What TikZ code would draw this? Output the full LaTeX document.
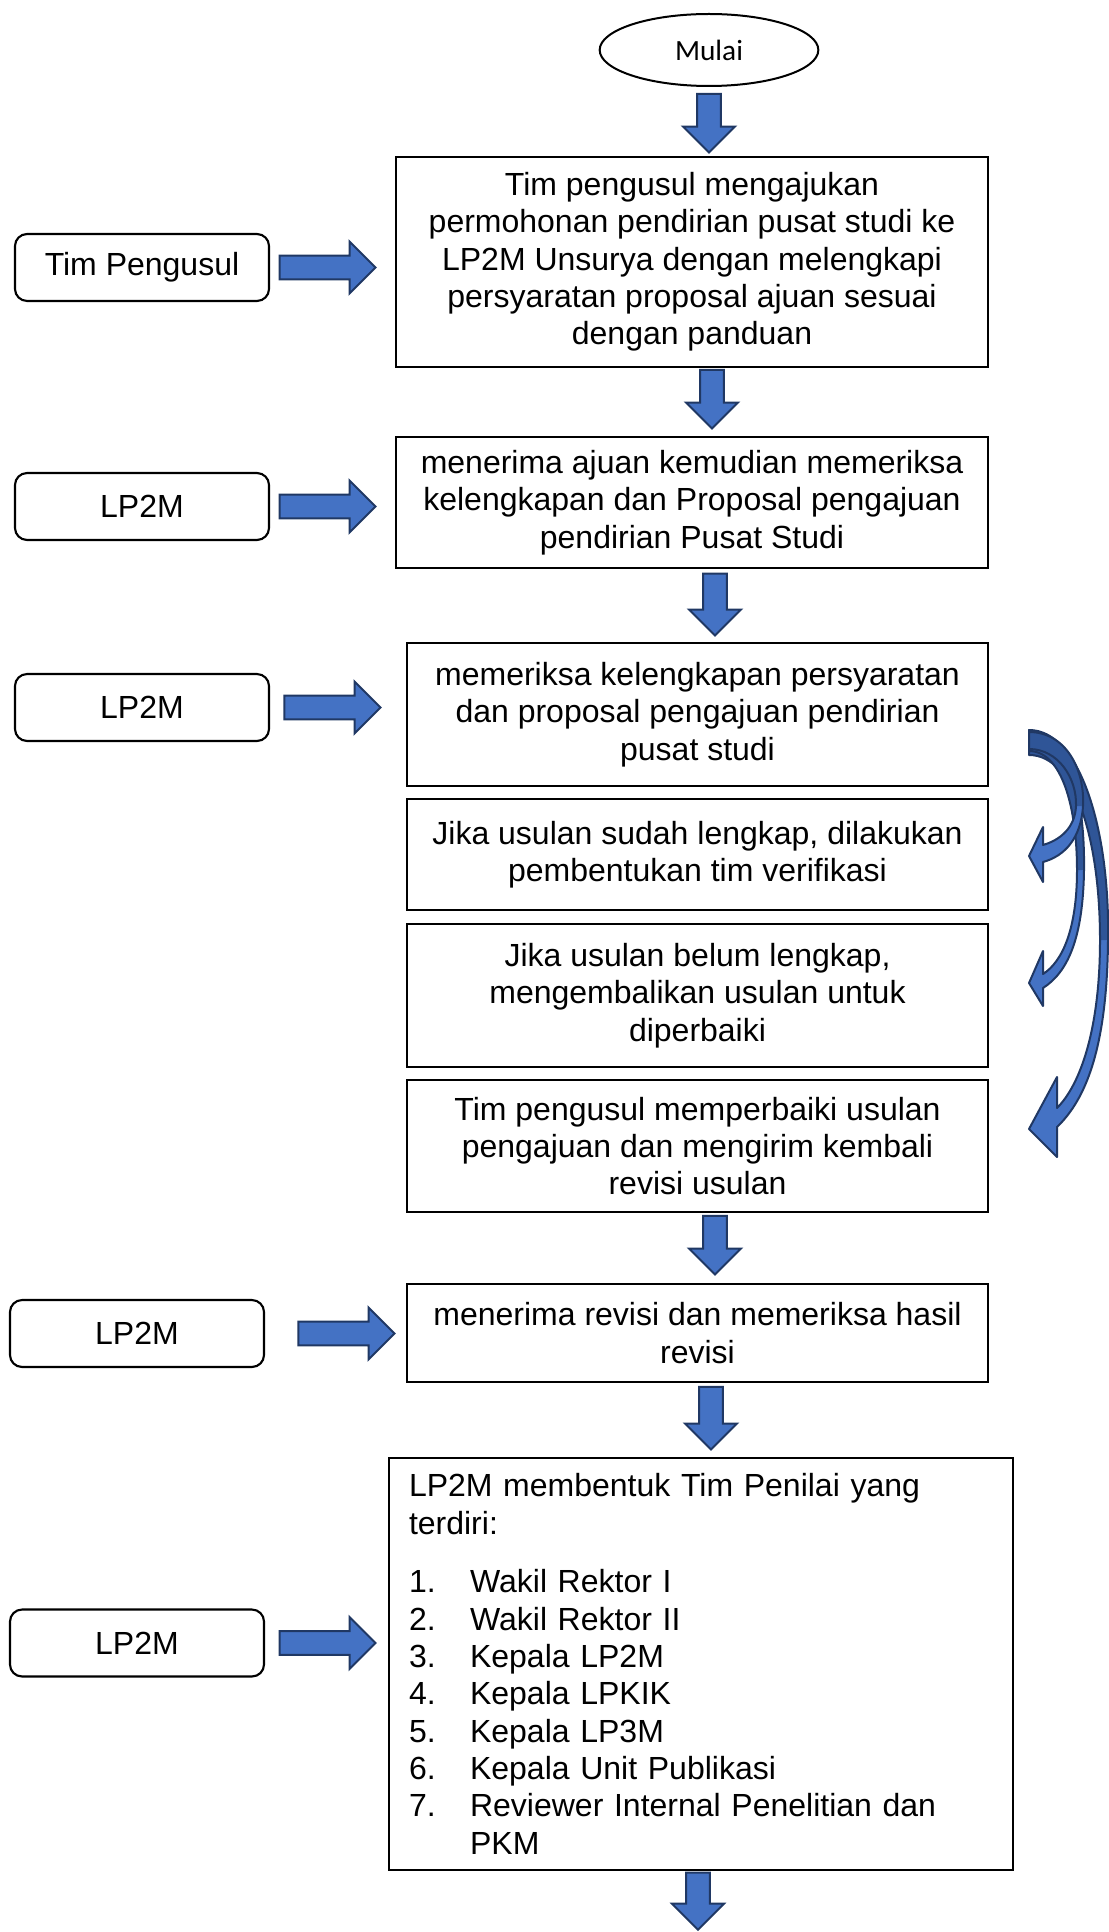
\documentclass[tikz,border=0pt]{standalone}
\usepackage{fontspec}
\setmainfont{Liberation Sans}
\newfontfamily\startfont{Carlito}
\usepackage{tikz}
\usetikzlibrary{arrows.meta, calc, shapes.geometric, shapes.arrows}
\definecolor{arrowblue}{RGB}{68,114,196}
\definecolor{arrowdark}{RGB}{47,85,151}
\definecolor{arrowedge}{RGB}{32,56,100}

\begin{document}
\begin{tikzpicture}[x=0.375pt, y=-0.375pt,
  stepbox/.style={draw, line width=0.8pt, align=center, inner sep=0pt,
    minimum width=217.9pt, font=\fontsize{12}{14}\selectfont},
  actor/.style={draw, line width=0.8pt, rounded corners=4.5pt,
    minimum width=95.25pt, minimum height=25.1pt, font=\fontsize{12}{14}\selectfont},
  blockarrow/.style={single arrow, draw=arrowedge, fill=arrowblue, line width=0.75pt,
    inner xsep=0pt, inner ysep=4.1pt, single arrow head extend=5.25pt, minimum height=#1},
  blockarrow/.default=22pt]
  \useasboundingbox (0,0) rectangle (1108,1932);

  % Start
  \node[draw, ellipse, line width=0.75pt, inner sep=0pt, minimum width=82pt, minimum height=27pt,
    font=\startfont\fontsize{11}{13}\selectfont] (start) at (709,50) {Mulai};

  % Process steps
  \node[stepbox, minimum width=222pt, minimum height=78.75pt] (b1) at (692,262)
    {Tim pengusul mengajukan\\permohonan pendirian pusat studi ke\\LP2M Unsurya dengan melengkapi\\persyaratan proposal ajuan sesuai\\dengan panduan};
  \node[stepbox, minimum width=222pt, minimum height=49.1pt] (b2) at (692,502.5)
    {menerima ajuan kemudian memeriksa\\kelengkapan dan Proposal pengajuan\\pendirian Pusat Studi};
  \node[stepbox, minimum height=53.6pt] (b3) at (697.5,714.5)
    {memeriksa kelengkapan persyaratan\\dan proposal pengajuan pendirian\\pusat studi};
  \node[stepbox, minimum height=41.6pt] (b4) at (697.5,854.5)
    {Jika usulan sudah lengkap, dilakukan\\pembentukan tim verifikasi};
  \node[stepbox, minimum height=53.6pt] (b5) at (697.5,995.5)
    {Jika usulan belum lengkap,\\mengembalikan usulan untuk\\diperbaiki};
  \node[stepbox, minimum height=49.5pt] (b6) at (697.5,1146)
    {Tim pengusul memperbaiki usulan\\pengajuan dan mengirim kembali\\revisi usulan};
  \node[stepbox, minimum height=36.75pt] (b7) at (697.5,1333)
    {menerima revisi dan memeriksa hasil\\revisi};
  \node[stepbox, align=left, text width=219pt, inner xsep=7.5pt, minimum height=154.5pt] (b8) at (701,1664)
    {LP2M membentuk Tim Penilai yang\\terdiri:\\[8pt]
     \makebox[22.9pt][l]{1.}Wakil Rektor I\\
     \makebox[22.9pt][l]{2.}Wakil Rektor II\\
     \makebox[22.9pt][l]{3.}Kepala LP2M\\
     \makebox[22.9pt][l]{4.}Kepala LPKIK\\
     \makebox[22.9pt][l]{5.}Kepala LP3M\\
     \makebox[22.9pt][l]{6.}Kepala Unit Publikasi\\
     \makebox[22.9pt][l]{7.}Reviewer Internal Penelitian dan\\
     \hspace*{22.9pt}PKM};

  % Actors
  \node[actor] (p1) at (142,267.5) {Tim Pengusul};
  \node[actor] (p2) at (142,506.5) {LP2M};
  \node[actor] (p3) at (142,707.5) {LP2M};
  \node[actor] (p4) at (137,1333.5) {LP2M};
  \node[actor] (p5) at (137,1643) {LP2M};

  % Down arrows
  \node[blockarrow, rotate=-90, anchor=tip] (d1) at ($(start |- b1.north)+(0,-2)$) {};
  \node[blockarrow, rotate=-90, anchor=tip] (d2) at ($(b2.north)+(20,-6)$) {};
  \node[blockarrow=23.2pt, rotate=-90, anchor=tip] (d3) at ($(b3.north)+(17.5,-5)$) {};
  \node[blockarrow, rotate=-90, anchor=tip] (d4) at ($(b7.north)+(17.5,-7)$) {};
  \node[blockarrow=23.5pt, rotate=-90, anchor=tip] (d5) at ($(b8.north)+(10,-6)$) {};
  \node[blockarrow=21.4pt, rotate=-90, anchor=tip] (d6) at ($(b8.south)+(-3,60)$) {};

  % Right arrows
  \node[blockarrow=36pt, anchor=tip] (r1) at ($(p1 -| b1.west)+(-18,0)$) {};
  \node[blockarrow=36pt, anchor=tip] (r2) at ($(p2 -| b2.west)+(-18,0)$) {};
  \node[blockarrow=36pt, anchor=tip] (r3) at ($(p3 -| b3.west)+(-24,0)$) {};
  \node[blockarrow=36pt, anchor=tip] (r4) at ($(p4 -| b7.west)+(-10,0)$) {};
  \node[blockarrow=36pt, anchor=tip] (r5) at ($(p5 -| b8.west)+(-11,0)$) {};

  % Loop arrow 1 (to b6)
  \fill[arrowblue] (1029,730) .. controls (1080,730) and (1110,830) .. (1108,940)
    .. controls (1107,1050) and (1085,1100) .. (1057,1127)
    -- (1057,1157) -- (1029,1129) -- (1057,1077) -- (1057,1108)
    .. controls (1080,1085) and (1100,1030) .. (1100,940)
    .. controls (1100,840) and (1075,755) .. (1029,755) -- cycle;
  \fill[arrowdark] (1029,730) .. controls (1080,730) and (1110,830) .. (1108,940)
    -- (1100,940) .. controls (1100,840) and (1075,755) .. (1029,755) -- cycle;
  \draw[arrowedge, line width=0.75pt, line join=round] (1029,730) .. controls (1080,730) and (1110,830) .. (1108,940)
    .. controls (1107,1050) and (1085,1100) .. (1057,1127)
    -- (1057,1157) -- (1029,1129) -- (1057,1077) -- (1057,1108)
    .. controls (1080,1085) and (1100,1030) .. (1100,940)
    .. controls (1100,840) and (1075,755) .. (1029,755) -- cycle;
  % Loop arrow 2 (to b5)
  \fill[arrowblue] (1029,731) .. controls (1070,731) and (1085,800) .. (1084,870)
    .. controls (1083,938) and (1068,972) .. (1043,988)
    -- (1043,1006) -- (1029,983) -- (1043,951) -- (1043,974)
    .. controls (1062,962) and (1077,930) .. (1077,870)
    .. controls (1077,808) and (1062,751) .. (1029,751) -- cycle;
  \fill[arrowdark] (1029,731) .. controls (1070,731) and (1085,800) .. (1084,870)
    -- (1077,870) .. controls (1077,808) and (1062,751) .. (1029,751) -- cycle;
  \draw[arrowedge, line width=0.75pt, line join=round] (1029,731) .. controls (1070,731) and (1085,800) .. (1084,870)
    .. controls (1083,938) and (1068,972) .. (1043,988)
    -- (1043,1006) -- (1029,983) -- (1043,951) -- (1043,974)
    .. controls (1062,962) and (1077,930) .. (1077,870)
    .. controls (1077,808) and (1062,751) .. (1029,751) -- cycle;
  % Loop arrow 3 (to b4)
  \fill[arrowblue] (1029,732) .. controls (1066,732) and (1085,770) .. (1083,806)
    .. controls (1081,838) and (1065,856) .. (1043,862)
    -- (1043,882) -- (1029,856) -- (1043,827) -- (1043,845)
    .. controls (1060,840) and (1075,828) .. (1076,806)
    .. controls (1077,778) and (1058,749) .. (1029,749) -- cycle;
  \fill[arrowdark] (1029,732) .. controls (1066,732) and (1085,770) .. (1083,806)
    -- (1076,806) .. controls (1077,778) and (1058,749) .. (1029,749) -- cycle;
  \draw[arrowedge, line width=0.75pt, line join=round] (1029,732) .. controls (1066,732) and (1085,770) .. (1083,806)
    .. controls (1081,838) and (1065,856) .. (1043,862)
    -- (1043,882) -- (1029,856) -- (1043,827) -- (1043,845)
    .. controls (1060,840) and (1075,828) .. (1076,806)
    .. controls (1077,778) and (1058,749) .. (1029,749) -- cycle;
\end{tikzpicture}
\end{document}
